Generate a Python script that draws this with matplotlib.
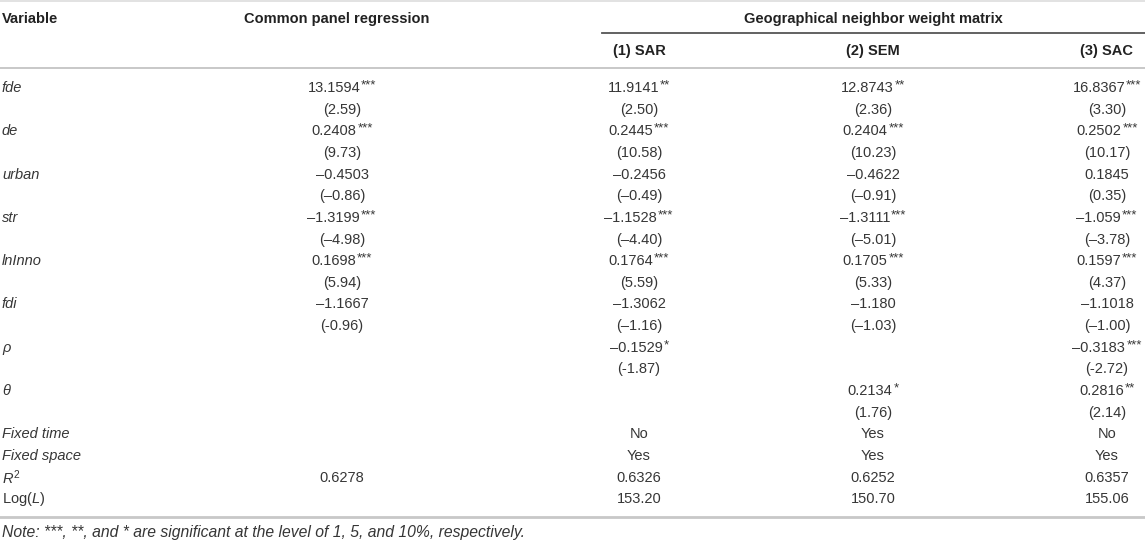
import matplotlib
matplotlib.use("Agg")
import matplotlib.pyplot as plt

plt.rcParams['font.family'] = ['Liberation Sans', 'DejaVu Sans']
plt.rcParams['mathtext.fontset'] = 'custom'
plt.rcParams['mathtext.rm'] = 'Liberation Sans'
plt.rcParams['mathtext.it'] = 'Liberation Sans:italic'

# table content
variables = ['fde', 'de', 'urban', 'str', 'lnInno', 'fdi', 'ρ', 'θ']
models = ['Common panel regression', '(1) SAR', '(2) SEM', '(3) SAC']

common_coef = ['13.1594', '0.2408', '–0.4503', '–1.3199', '0.1698', '–1.1667', '', '']
common_stars = ['***', '***', '', '***', '***', '', '', '']
common_t = ['(2.59)', '(9.73)', '(–0.86)', '(–4.98)', '(5.94)', '(-0.96)', '', '']

sar_coef = ['11.9141', '0.2445', '–0.2456', '–1.1528', '0.1764', '–1.3062', '–0.1529', '']
sar_stars = ['**', '***', '', '***', '***', '', '*', '']
sar_t = ['(2.50)', '(10.58)', '(–0.49)', '(–4.40)', '(5.59)', '(–1.16)', '(-1.87)', '']

sem_coef = ['12.8743', '0.2404', '–0.4622', '–1.3111', '0.1705', '–1.180', '', '0.2134']
sem_stars = ['**', '***', '', '***', '***', '', '', '*']
sem_t = ['(2.36)', '(10.23)', '(–0.91)', '(–5.01)', '(5.33)', '(–1.03)', '', '(1.76)']

sac_coef = ['16.8367', '0.2502', '0.1845', '–1.059', '0.1597', '–1.1018', '–0.3183', '0.2816']
sac_stars = ['***', '***', '', '***', '***', '', '***', '**']
sac_t = ['(3.30)', '(10.17)', '(0.35)', '(–3.78)', '(4.37)', '(–1.00)', '(-2.72)', '(2.14)']

fixed_time = ['', 'No', 'Yes', 'No']
fixed_space = ['', 'Yes', 'Yes', 'Yes']
r_squared = ['0.6278', '0.6326', '0.6252', '0.6357']
log_l = ['', '153.20', '150.70', '155.06']

note = 'Note: ***, **, and * are significant at the level of 1, 5, and 10%, respectively.'

# layout (pixels)
W, H = 1145, 540
col_x = [342, 639, 873, 1107]
row0 = 88
step = 21.65
fs = 10.5
txt = '#363636'
head = '#222222'
rule = '#c8c8c8'

fig = plt.figure(figsize=(W / 100, H / 100), dpi=100)
ax = fig.add_axes([0, 0, 1, 1])
ax.set_xlim(0, W)
ax.set_ylim(H, 0)
ax.axis('off')
renderer = fig.canvas.get_renderer()


def width_px(t):
    bb = t.get_window_extent(renderer=renderer)
    return bb.width


def value_with_stars(cx, y, num, stars):
    if num == '':
        return
    t1 = ax.text(0, y, num, fontsize=fs, color=txt, ha='left', va='center')
    w1 = width_px(t1)
    w2 = 0
    t2 = None
    if stars:
        t2 = ax.text(0, y - 2.5, stars, fontsize=9.5, color=txt, ha='left', va='center')
        w2 = width_px(t2) + 1
    left = cx - (w1 + w2) / 2
    t1.set_x(left)
    if t2 is not None:
        t2.set_x(left + w1 + 1)


# rules
ax.plot([0, W], [1, 1], color='#dddddd', lw=1.2)
ax.plot([602, W], [33, 33], color='#555555', lw=1.3)
ax.plot([0, W], [68, 68], color=rule, lw=1.4)
ax.plot([0, W], [517, 517], color=rule, lw=2.0)

# headers
ax.text(2, 19, 'Variable', fontsize=fs, fontweight='bold', color=head, va='center', ha='left')
ax.text(337, 19, models[0], fontsize=fs, fontweight='bold', color=head, va='center', ha='center')
ax.text(873, 19, 'Geographical neighbor weight matrix', fontsize=fs, fontweight='bold',
        color=head, va='center', ha='center')
for cx, name in zip(col_x[1:], models[1:]):
    ax.text(cx, 51, name, fontsize=fs, fontweight='bold', color=head, va='center', ha='center')

# coefficient rows
coefs = [common_coef, sar_coef, sem_coef, sac_coef]
stars = [common_stars, sar_stars, sem_stars, sac_stars]
tvals = [common_t, sar_t, sem_t, sac_t]
for i, var in enumerate(variables):
    y = row0 + 2 * i * step
    ax.text(2, y, var, fontsize=fs, style='italic', color=txt, va='center', ha='left')
    for j in range(4):
        value_with_stars(col_x[j], y, coefs[j][i], stars[j][i])
        if tvals[j][i]:
            ax.text(col_x[j], y + step, tvals[j][i], fontsize=fs, color=txt,
                    va='center', ha='center')

# bottom rows
labels = ['Fixed time', 'Fixed space', r'$\mathit{R}^{2}$', r'Log$\mathit{(L)}$']
rows = [fixed_time, fixed_space, r_squared, log_l]
for k, (lab, vals) in enumerate(zip(labels, rows)):
    y = row0 + (16 + k) * step
    style = 'italic' if k < 2 else 'normal'
    ax.text(2, y, lab, fontsize=fs, style=style, color=txt, va='center', ha='left')
    for j in range(4):
        if vals[j]:
            ax.text(col_x[j], y, vals[j], fontsize=fs, color=txt, va='center', ha='center')

ax.text(2, 532, note, fontsize=11.3, style='italic', color=txt, va='center', ha='left')

fig.savefig('out.png', dpi=100)
